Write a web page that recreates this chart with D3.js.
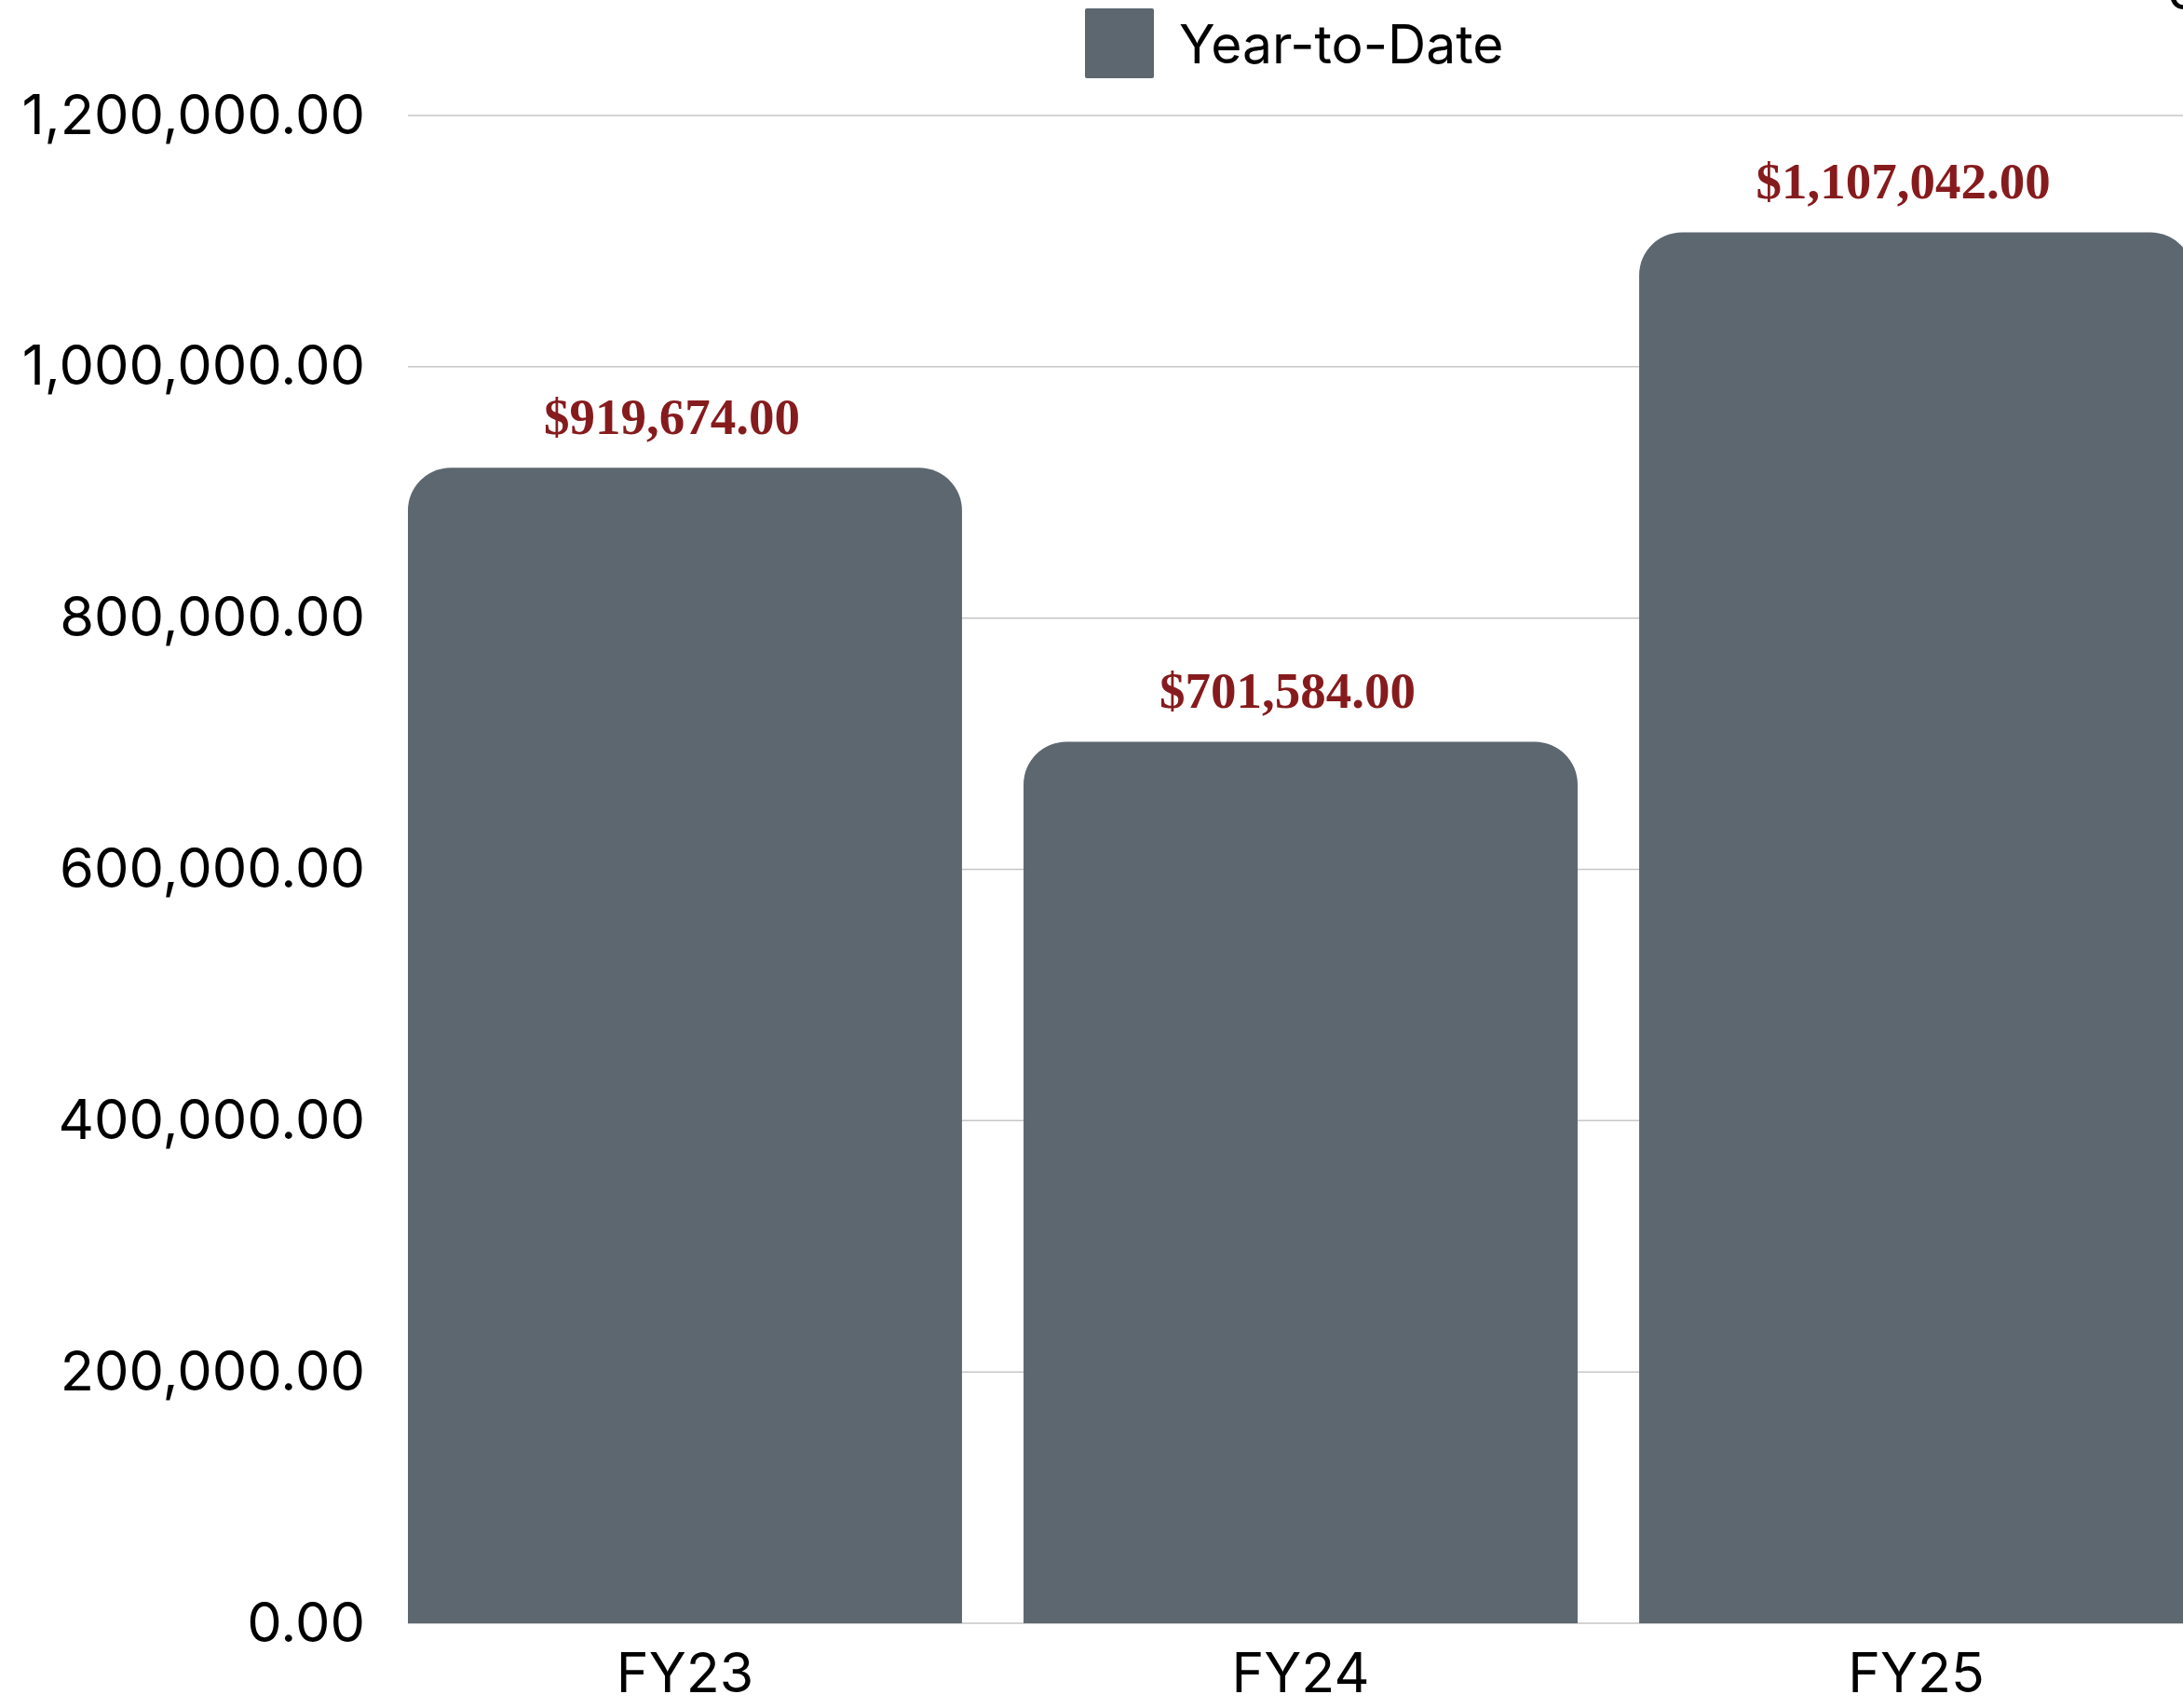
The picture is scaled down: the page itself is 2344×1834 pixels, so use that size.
<!DOCTYPE html>
<html>
<head>
<meta charset="utf-8">
<script src="https://cdn.jsdelivr.net/npm/d3@7"></script>
<style>
  body { margin: 0; background: #fff; }
  svg { display: block; }
</style>
</head>
<body>
<svg width="2344" height="1834"></svg>
<script>
const width = 2344;
const height = 1834;

// data
const categories = ["FY23", "FY24", "FY25"];
const values = [919674, 701584, 1107042];
const yTicks = [0, 200000, 400000, 600000, 800000, 1000000, 1200000];
const seriesName = "Year-to-Date";

const barColor = "#5c6770";
const labelColor = "#861b1d";
const gridColor = "#c6c6c6";

const margin = {top: 124, left: 438, bottom: 91};

const svg = d3.select("svg");

const x = d3.scaleBand()
    .domain(categories)
    .range([margin.left, margin.left + 1917])
    .paddingInner(0.1)
    .paddingOuter(0);

const y = d3.scaleLinear()
    .domain([0, 1200000])
    .range([height - margin.bottom, margin.top]);

// gridlines
svg.append("g")
    .selectAll("line")
    .data(yTicks)
    .join("line")
    .attr("x1", margin.left)
    .attr("x2", width)
    .attr("y1", d => y(d))
    .attr("y2", d => y(d))
    .attr("stroke", gridColor)
    .attr("stroke-width", 1.5);

// y axis labels
const yAxis = svg.append("g")
    .attr("transform", `translate(${margin.left}, 0)`)
    .call(d3.axisLeft(y).tickValues(yTicks).tickFormat(d3.format(",.2f")).tickSize(0).tickPadding(46));
yAxis.select(".domain").remove();
yAxis.selectAll("text")
    .attr("font-family", "Inter, 'Noto Sans', sans-serif")
    .attr("font-size", "59.5px")
    .attr("fill", "#000");

// x axis labels
const xAxis = svg.append("g")
    .attr("transform", `translate(0, ${y(0)})`)
    .call(d3.axisBottom(x).tickSize(0).tickPadding(32));
xAxis.select(".domain").remove();
xAxis.selectAll("text")
    .attr("font-family", "Inter, 'Noto Sans', sans-serif")
    .attr("font-size", "59px")
    .attr("fill", "#000");

// bars with rounded top corners
const r = 46;
function barPath(d, i) {
    const x0 = x(categories[i]), x1 = x0 + x.bandwidth();
    const y0 = y(0), y1 = y(d);
    return `M${x0},${y0}V${y1 + r}A${r},${r} 0 0 1 ${x0 + r},${y1}H${x1 - r}A${r},${r} 0 0 1 ${x1},${y1 + r}V${y0}Z`;
}

svg.append("g")
    .selectAll("path")
    .data(values)
    .join("path")
    .attr("d", (d, i) => barPath(d, i))
    .attr("fill", barColor);

// value labels
svg.append("g")
    .selectAll("text")
    .data(values)
    .join("text")
    .attr("x", (d, i) => x(categories[i]) + x.bandwidth() / 2 - 14)
    .attr("y", d => y(d) - 36)
    .attr("text-anchor", "middle")
    .attr("font-family", "'Liberation Serif', 'DejaVu Serif', serif")
    .attr("font-weight", "bold")
    .attr("font-size", "55px")
    .attr("fill", labelColor)
    .text(d => "$" + d3.format(",.2f")(d));

// legend
const legend = svg.append("g");
legend.append("rect")
    .attr("x", 1165)
    .attr("y", 9)
    .attr("width", 74)
    .attr("height", 75)
    .attr("rx", 2)
    .attr("fill", barColor);
legend.append("text")
    .attr("x", 1266)
    .attr("y", 68)
    .attr("font-family", "Inter, 'Noto Sans', sans-serif")
    .attr("font-size", "57px")
    .attr("fill", "#000")
    .text(seriesName);

// cut-off label at the top right corner
svg.append("text")
    .attr("x", 2326)
    .attr("y", 10)
    .attr("font-family", "Inter, 'Noto Sans', sans-serif")
    .attr("font-size", "58px")
    .attr("fill", "#000")
    .text("0");
</script>
</body>
</html>
